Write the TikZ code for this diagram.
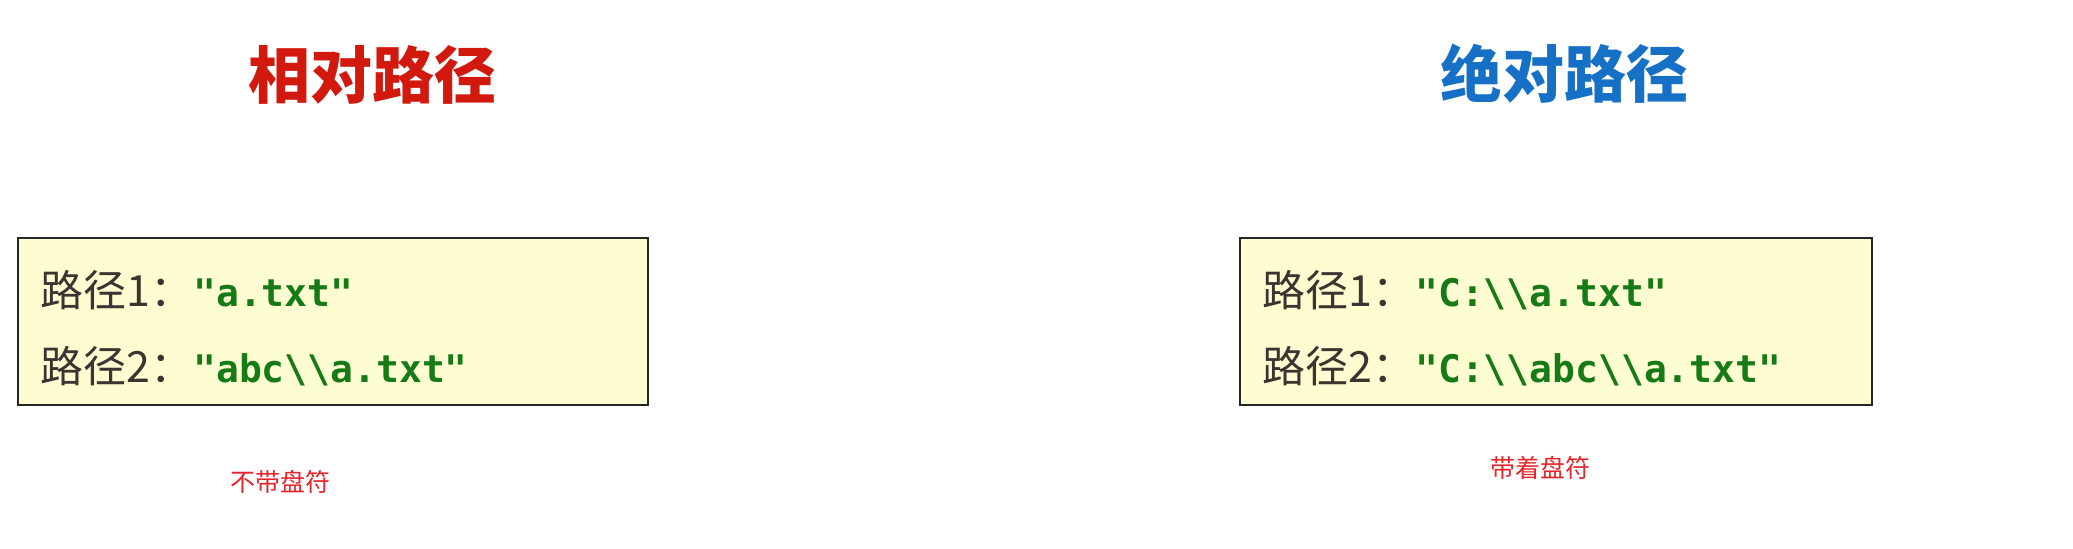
\documentclass[tikz,border=0pt]{standalone}
\usepackage{fontspec}
\setmainfont{Noto Sans CJK SC}
\setmonofont{DejaVu Sans Mono}
\usetikzlibrary{positioning}

\definecolor{titlered}{HTML}{D2190E}
\definecolor{titleblue}{HTML}{1670C6}
\definecolor{codegreen}{HTML}{167A16}
\definecolor{boxfill}{HTML}{FEFDD2}
\definecolor{notered}{HTML}{E3262B}
\definecolor{bodygray}{HTML}{3A3530}

\newcommand{\code}[1]{{\ttfamily\bfseries\color{codegreen}#1}}
\newcommand{\bs}{\textbackslash}

\tikzset{
  title/.style={font=\fontsize{31}{36}\selectfont\bfseries},
  pathbox/.style={draw=black!85, line width=1pt, fill=boxfill, minimum height=83.5pt},
  pathline/.style={anchor=west, text=bodygray, font=\fontsize{21.5}{26}\selectfont},
  note/.style={text=notered, font=\fontsize{12.5}{15}\selectfont}
}

\begin{document}
\begin{tikzpicture}[x=0.5pt,y=-0.5pt, every node/.style={inner sep=0pt}]
  \useasboundingbox (0,0) rectangle (2073,549);
  % titles
  \node[title, text=titlered] (reltitle) at (372,75) {相对路径};
  \node[title, text=titleblue] (abstitle) at (1564,74) {绝对路径};
  % boxes
  \node[pathbox, minimum width=315pt] (relbox) at (333,321.5) {};
  \node[pathbox, minimum width=316pt] (absbox) at (1556,321.5) {};
  % relative paths
  \node[pathline] (rel1) at (40,290) {路径1：\code{\fontsize{19}{23}\selectfont"a.txt"}};
  \node[pathline] (rel2) at (40,366) {路径2：\code{\fontsize{19}{23}\selectfont"abc\bs\bs a.txt"}};
  % absolute paths
  \node[pathline] (abs1) at (1262,290) {路径1：\code{\fontsize{19}{23}\selectfont"C:\bs\bs a.txt"}};
  \node[pathline] (abs2) at (1262,366) {路径2：\code{\fontsize{19}{23}\selectfont"C:\bs\bs abc\bs\bs a.txt"}};
  % notes
  \node[note] (relnote) at (280,482) {不带盘符};
  \node[note] (absnote) at (1540,468) {带着盘符};
\end{tikzpicture}
\end{document}
